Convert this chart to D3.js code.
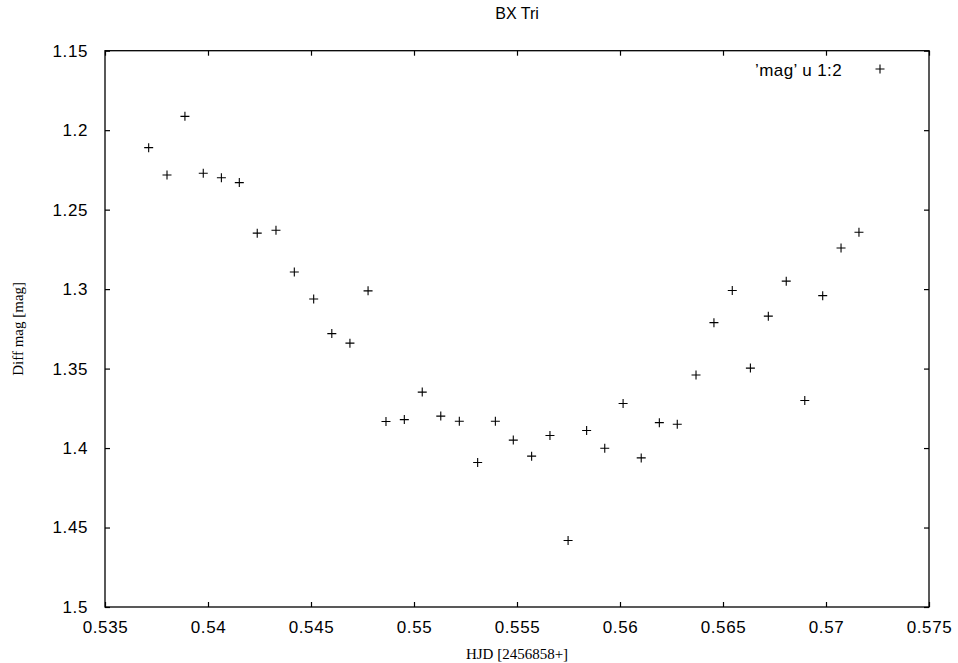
<!DOCTYPE html>
<html>
<head>
<meta charset="utf-8">
<script src="https://cdn.jsdelivr.net/npm/d3@7/dist/d3.min.js"></script>
<style>
  html, body { margin: 0; padding: 0; background: #fff; }
  svg { display: block; }
</style>
</head>
<body>
<svg id="chart" width="958" height="663"></svg>
<script>
const hjd = [0.53712, 0.53801, 0.53888, 0.53977, 0.54065, 0.54152, 0.54239, 0.54330,
  0.54419, 0.54513, 0.54601, 0.54689, 0.54777, 0.54864, 0.54953, 0.55040,
  0.55130, 0.55220, 0.55309, 0.55395, 0.55482, 0.55571, 0.55660, 0.55748,
  0.55838, 0.55926, 0.56015, 0.56103, 0.56191, 0.56278, 0.56369, 0.56456,
  0.56545, 0.56633, 0.56720, 0.56807, 0.56897, 0.56984, 0.57073, 0.57160];
const diffMag = [1.2110, 1.2282, 1.1913, 1.2271, 1.2299, 1.2330, 1.2648, 1.2630,
  1.2892, 1.3062, 1.3280, 1.3340, 1.3011, 1.3833, 1.3821, 1.3648,
  1.3799, 1.3831, 1.4091, 1.3831, 1.3950, 1.4051, 1.3921, 1.4582,
  1.3890, 1.4001, 1.3720, 1.4062, 1.3840, 1.3850, 1.3540, 1.3211,
  1.3009, 1.3497, 1.3170, 1.2950, 1.3701, 1.3041, 1.2741, 1.2642];
const xTicks = [0.535, 0.54, 0.545, 0.55, 0.555, 0.56, 0.565, 0.57, 0.575];
const yTicks = [1.15, 1.2, 1.25, 1.3, 1.35, 1.4, 1.45, 1.5];
const title = "BX Tri";
const xLabel = "HJD [2456858+]";
const yLabel = "Diff mag [mag]";
const legendLabel = "\u2019mag\u2019 u 1:2";

const svg = d3.select("#chart");
const L = 105, R = 929, T = 50.7, B = 607;
const x = d3.scaleLinear().domain([0.535, 0.575]).range([L, R]);
const y = d3.scaleLinear().domain([1.15, 1.5]).range([T, B]);

const sans = "'Liberation Sans', Arial, Helvetica, sans-serif";
const serif = "'Liberation Serif', 'Times New Roman', serif";
const fmt = d => String(+d.toFixed(3));

const gx = svg.append("g").attr("transform", `translate(0,${B})`)
  .call(d3.axisBottom(x).tickValues(xTicks).tickFormat(fmt).tickSizeInner(-5).tickSizeOuter(0).tickPadding(14));
const gxTop = svg.append("g").attr("transform", `translate(0,${T})`)
  .call(d3.axisTop(x).tickValues(xTicks).tickFormat("").tickSizeInner(-5).tickSizeOuter(0));
const gy = svg.append("g").attr("transform", `translate(${L},0)`)
  .call(d3.axisLeft(y).tickValues(yTicks).tickFormat(fmt).tickSizeInner(-5).tickSizeOuter(0).tickPadding(17));
const gyR = svg.append("g").attr("transform", `translate(${R},0)`)
  .call(d3.axisRight(y).tickValues(yTicks).tickFormat("").tickSizeInner(-5).tickSizeOuter(0));

[gx, gxTop, gy, gyR].forEach(g => {
  g.select(".domain").remove();
  g.selectAll(".tick line").attr("stroke", "#000").attr("stroke-width", 1.2);
  g.selectAll("text").attr("fill", "#000").style("font-family", sans)
    .style("font-size", "17px").style("letter-spacing", "0.6px");
});

svg.append("rect").attr("x", L).attr("y", T).attr("width", R - L).attr("height", B - T)
  .attr("fill", "none").attr("stroke", "#000").attr("stroke-width", 1.3);

const cross = "M-4.5,0H4.5M0,-4.5V4.5";
svg.append("g").selectAll("path").data(hjd).join("path")
  .attr("transform", (d, i) => `translate(${x(d)},${y(diffMag[i])})`)
  .attr("d", cross).attr("stroke", "#000").attr("stroke-width", 1.1).attr("fill", "none");

svg.append("text").attr("x", 842).attr("y", 70).attr("text-anchor", "end")
  .attr("dominant-baseline", "central")
  .style("font-family", sans).style("font-size", "17px").style("letter-spacing", "0.4px").text(legendLabel);
svg.append("path").attr("transform", "translate(880,69)").attr("d", cross)
  .attr("stroke", "#000").attr("stroke-width", 1.1);

svg.append("text").attr("x", (L + R) / 2).attr("y", 19).attr("text-anchor", "middle")
  .style("font-family", sans).style("font-size", "16px").text(title);

svg.append("text").attr("x", (L + R) / 2).attr("y", 659).attr("text-anchor", "middle")
  .style("font-family", serif).style("font-size", "15px").text(xLabel);
svg.append("text").attr("transform", `translate(23,${(T + B) / 2}) rotate(-90)`)
  .attr("text-anchor", "middle")
  .style("font-family", serif).style("font-size", "15px").text(yLabel);
</script>
</body>
</html>
